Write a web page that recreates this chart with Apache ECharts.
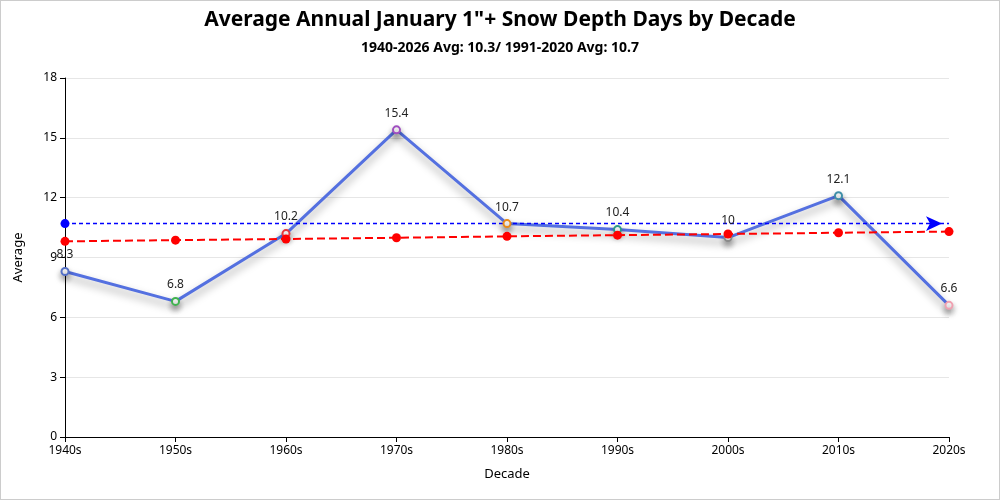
<!DOCTYPE html>
<html>
<head>
<meta charset="utf-8">
<script src="https://cdn.jsdelivr.net/npm/echarts@6/dist/echarts.min.js"></script>
<style>
html,body{margin:0;padding:0;background:#fff;}
#c{width:998px;height:498px;border:1px solid #ccc;}
</style>
</head>
<body>
<div id="c"></div>
<script>
const categories = ['1940s','1950s','1960s','1970s','1980s','1990s','2000s','2010s','2020s'];
const averages = [8.3, 6.8, 10.2, 15.4, 10.7, 10.4, 10, 12.1, 6.6];
const trend = [9.81, 9.87, 9.93, 9.99, 10.06, 10.12, 10.18, 10.24, 10.30];
const normal = 10.7;
const markerColors = ['#5470c6','#3fb34f','#e8343a','#a04fc0','#e88a1a','#2e9a8a','#8a8a8a','#3f8fa8','#f0a0b0'];
const yTicks = {min: 0, max: 18, interval: 3};

const last = categories.length - 1;
const normalData = categories.map((c, i) => {
  if (i === 0) return {value: normal, symbol: 'circle', symbolSize: 9};
  if (i === last) return {value: normal, symbol: 'arrow', symbolSize: [11, 16], symbolRotate: -90, symbolOffset: [-7, 0]};
  return {value: normal, symbol: 'none'};
});

const chart = echarts.init(document.getElementById('c'));
chart.setOption({
  animation: false,
  title: {
    text: 'Average Annual January 1"+ Snow Depth Days by Decade',
    subtext: '1940-2026 Avg: 10.3/ 1991-2020 Avg: 10.7',
    left: 'center',
    top: 4,
    itemGap: 10,
    textStyle: {fontFamily: 'Noto Sans', fontSize: 21, fontWeight: 'bold', color: '#000'},
    subtextStyle: {fontFamily: 'Noto Sans', fontSize: 14, fontWeight: 'bold', color: '#000'}
  },
  grid: {left: 64, right: 50, top: 77, bottom: 62},
  xAxis: {
    type: 'category',
    data: categories,
    boundaryGap: false,
    name: 'Decade',
    nameLocation: 'middle',
    nameGap: 31,
    nameTextStyle: {fontFamily: 'Noto Sans', fontSize: 13, color: '#000'},
    axisLine: {lineStyle: {color: '#000'}},
    axisTick: {show: true, lineStyle: {color: '#000'}},
    axisLabel: {fontFamily: 'Noto Sans', fontSize: 12, color: '#000'}
  },
  yAxis: {
    type: 'value',
    min: yTicks.min, max: yTicks.max, interval: yTicks.interval,
    name: 'Average',
    nameLocation: 'middle',
    nameGap: 40,
    nameTextStyle: {fontFamily: 'Noto Sans', fontSize: 13, color: '#000'},
    axisLine: {show: true, lineStyle: {color: '#000'}},
    axisTick: {show: true, lineStyle: {color: '#000'}},
    axisLabel: {fontFamily: 'Noto Sans', fontSize: 12, color: '#000'},
    splitLine: {lineStyle: {color: '#e6e6e6'}}
  },
  series: [
    {
      name: 'Average',
      type: 'line',
      data: averages.map((v, i) => ({value: v, itemStyle: {color: markerColors[i]}})),
      symbol: 'emptyCircle',
      symbolSize: 7,
      lineStyle: {color: '#5470e0', width: 3, shadowColor: 'rgba(0,0,0,0.4)', shadowBlur: 8, shadowOffsetY: 5},
      itemStyle: {borderWidth: 2, shadowColor: 'rgba(0,0,0,0.4)', shadowBlur: 6, shadowOffsetY: 4},
      label: {show: true, position: 'top', fontFamily: 'Noto Sans', fontSize: 12, color: '#222', distance: 6},
      z: 2
    },
    {
      name: 'Normal',
      type: 'line',
      data: normalData,
      silent: true,
      itemStyle: {color: '#0000ff'},
      lineStyle: {color: '#0000ff', type: [4, 3], width: 1.5},
      label: {show: false},
      z: 2
    },
    {
      name: 'Trend',
      type: 'line',
      data: trend,
      symbol: 'circle',
      symbolSize: 9,
      itemStyle: {color: '#ff0000'},
      lineStyle: {color: '#ff0000', type: 'dashed', width: 2},
      label: {show: false},
      z: 3
    }
  ]
});
</script>
</body>
</html>
